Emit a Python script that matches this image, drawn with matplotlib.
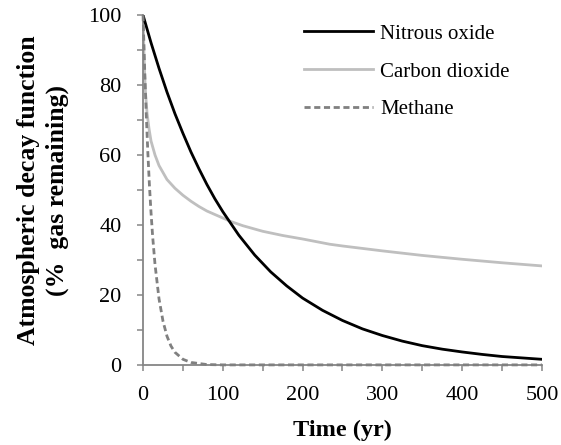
import matplotlib
matplotlib.use("Agg")
import matplotlib.pyplot as plt
from matplotlib.ticker import MultipleLocator

plt.rcParams["font.family"] = ["Liberation Serif", "DejaVu Serif"]

# values
n2o_t = [0, 10, 20, 30, 40, 50, 60, 70, 80, 90, 100, 120, 140, 160, 180, 200,
         225, 250, 275, 300, 325, 350, 375, 400, 425, 450, 475, 500]
n2o_pct = [100, 92.1, 84.8, 78.0, 71.8, 66.2, 60.9, 56.1, 51.6, 47.5, 43.8, 37.1,
           31.4, 26.6, 22.6, 19.1, 15.6, 12.7, 10.3, 8.4, 6.8, 5.5, 4.5, 3.7,
           3.0, 2.4, 2.0, 1.6]

co2_t = [0, 1, 2, 3, 5, 7.5, 10, 15, 20, 25, 30, 40, 50, 60, 70, 80, 100, 110,
         125, 150, 175, 200, 234, 250, 300, 350, 400, 450, 500]
co2_pct = [100, 90, 83, 78, 72, 67.5, 64, 60, 57, 55, 53, 50.5, 48.5, 46.8, 45.3,
           44, 42, 41, 39.8, 38.2, 37, 36, 34.5, 34, 32.6, 31.3, 30.2, 29.2, 28.3]

ch4_t = [0, 2, 4, 6, 8, 10, 12, 15, 20, 25, 30, 35, 40, 50, 60, 80, 100, 500]
ch4_pct = [100, 84.6, 71.7, 60.7, 51.3, 43.5, 36.8, 28.7, 18.9, 12.5, 8.2, 5.4,
           3.6, 1.6, 0.7, 0.1, 0, 0]

fig = plt.figure(figsize=(5.61, 4.45), dpi=100)
ax = fig.add_axes([0.255, 0.180, 0.711, 0.786])

ax.plot(n2o_t, n2o_pct, color="black", lw=2.0, label="Nitrous oxide", zorder=3)
ax.plot(co2_t, co2_pct, color="#bfbfbf", lw=2.0, label="Carbon dioxide", zorder=2)
ax.plot(ch4_t, ch4_pct, color="#808080", lw=2.0, ls=(0, (2.2, 1.3)),
        label="Methane", zorder=4, clip_on=False)

ax.set_xlim(0, 500)
ax.set_ylim(0, 100)
ax.xaxis.set_major_locator(MultipleLocator(100))
ax.xaxis.set_minor_locator(MultipleLocator(50))
ax.yaxis.set_major_locator(MultipleLocator(20))
ax.yaxis.set_minor_locator(MultipleLocator(10))
ax.tick_params(which="both", direction="out", length=4.5, width=1.1, color="#868686",
               labelsize=16, pad=11)

ax.spines["top"].set_visible(False)
ax.spines["right"].set_visible(False)
for s in ["left", "bottom"]:
    ax.spines[s].set_color("#868686")
    ax.spines[s].set_linewidth(1.3)

ax.set_xlabel("Time (yr)", fontsize=17.5, weight="bold", labelpad=10)
ax.set_ylabel("Atmospheric decay function\n(%  gas remaining)", fontsize=18.5,
              weight="bold", labelpad=14, linespacing=1.3)

ax.legend(loc="upper left", frameon=False, fontsize=15, handlelength=3.3,
          labelspacing=0.88, handletextpad=0.35, borderpad=0, borderaxespad=0,
          bbox_to_anchor=(304 / 561, 1 - 24 / 445), bbox_transform=fig.transFigure)

fig.savefig("out.png", dpi=100)
